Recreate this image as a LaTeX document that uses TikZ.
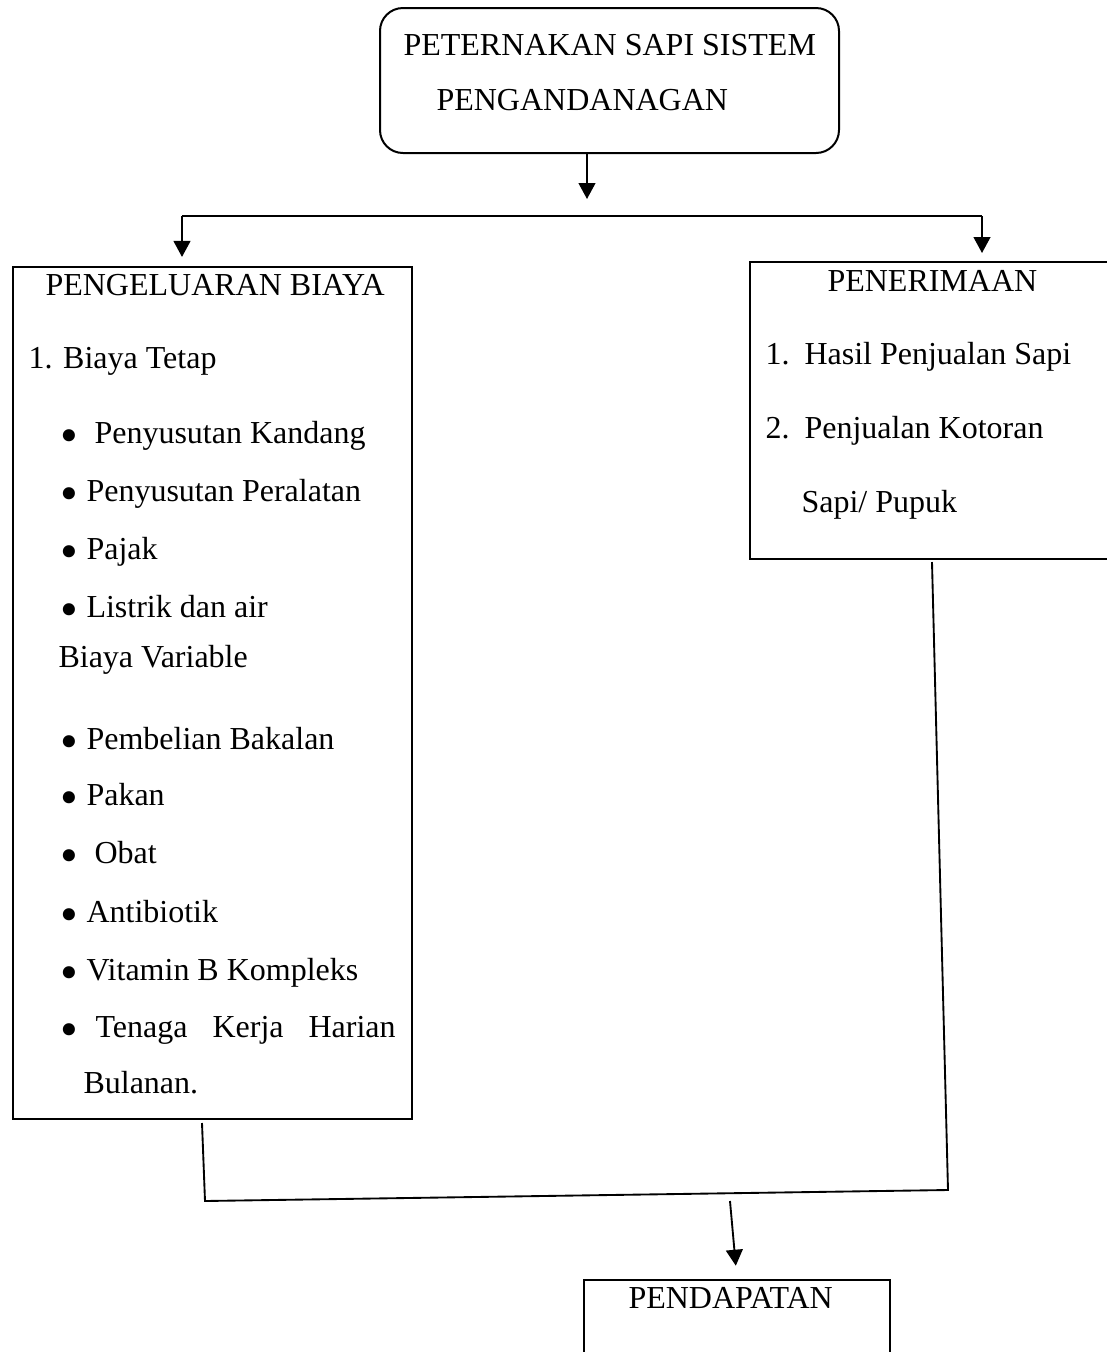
\documentclass[tikz,border=0pt]{standalone}
\usepackage{fontspec}
\setmainfont{Liberation Serif}
\usetikzlibrary{arrows.meta}
\newlength\px
\setlength\px{0.375pt}

\begin{document}
\begin{tikzpicture}[x=\px, y=-\px,
  kotak/.style={draw, line width=0.75pt, inner sep=0pt, anchor=north west},
  teks/.style={anchor=base west, inner sep=0pt, font=\fontsize{12}{14}\selectfont},
  titik/.style={anchor=base, inner sep=0pt, yshift=-3.6pt, font=\fontsize{19}{19}\selectfont},
  garis/.style={line width=0.7pt},
  panah/.style={garis, -{Triangle[width=6.3pt,length=6pt]}}]
  \clip (0,0) rectangle (1107,1352);

  % kotak
  \node[kotak, rounded corners=8.6pt, minimum width=459\px, minimum height=145\px] (sistem) at (379,7) {};
  \node[kotak, minimum width=399\px, minimum height=852\px] (biaya) at (12,266) {};
  \node[kotak, minimum width=400\px, minimum height=297\px] (terima) at (749,261) {};
  \node[kotak, minimum width=306\px, minimum height=160\px] (hasil) at (583,1279) {};

  \node[teks] (s1) at (403,55) {PETERNAKAN SAPI SISTEM};
  \node[teks] (s2) at (436,110) {PENGANDANAGAN};

  \node[teks] (b0) at (45,295) {PENGELUARAN BIAYA};
  \node[teks] (b1) at (28,368) {1. Biaya Tetap};
  \node[titik] at (69,443) {•};
  \node[teks] (b2) at (94,443) {Penyusutan Kandang};
  \node[titik] at (69,501) {•};
  \node[teks] (b3) at (86,501) {Penyusutan Peralatan};
  \node[titik] at (69,559) {•};
  \node[teks] (b4) at (86,559) {Pajak};
  \node[titik] at (69,617) {•};
  \node[teks] (b5) at (86,617) {Listrik dan air};
  \node[teks] (b6) at (58,667) {Biaya Variable};
  \node[titik] at (69,749) {•};
  \node[teks] (b7) at (86,749) {Pembelian Bakalan};
  \node[titik] at (69,805) {•};
  \node[teks] (b8) at (86,805) {Pakan};
  \node[titik] at (69,863) {•};
  \node[teks] (b9) at (94,863) {Obat};
  \node[titik] at (69,922) {•};
  \node[teks] (b10) at (86,922) {Antibiotik};
  \node[titik] at (69,980) {•};
  \node[teks] (b11) at (86,980) {Vitamin B Kompleks};
  \node[titik] at (69,1037) {•};
  \node[teks] (b12) at (95,1037) {Tenaga};
  \node[teks] (b13) at (212,1037) {Kerja};
  \node[teks] (b14) at (308,1037) {Harian};
  \node[teks] (b15) at (83,1093) {Bulanan.};

  \node[teks] (t0) at (827,291) {PENERIMAAN};
  \node[teks] at (765,364) {1.};
  \node[teks] (t1) at (804,364) {Hasil Penjualan Sapi};
  \node[teks] at (765,438) {2.};
  \node[teks] (t2) at (804,438) {Penjualan Kotoran};
  \node[teks] (t3) at (801,512) {Sapi/ Pupuk};

  \node[teks] (h0) at (628,1308) {PENDAPATAN};

  % penghubung
  \coordinate (c0) at (587,199);
  \coordinate (kiri) at (182,216);
  \coordinate (kanan) at (982,216);
  \draw[panah] (c0 |- sistem.south) -- (c0);
  \draw[garis] (kiri) -- (kanan);
  \draw[panah, shorten >=3.4pt] (kiri) -- (kiri |- biaya.north);
  \draw[panah, shorten >=3pt] (kanan) -- (kanan |- terima.north);

  \coordinate (p1) at (202,1123);
  \coordinate (p2) at (205,1201);
  \coordinate (p3) at (948,1190);
  \coordinate (p4) at (932,562);
  \draw[garis] (p1) -- (p2) -- (p3) -- (p4);
  \coordinate (q1) at (730,1201);
  \draw[panah, shorten >=5pt] (q1) -- (hasil.north);
\end{tikzpicture}
\end{document}
